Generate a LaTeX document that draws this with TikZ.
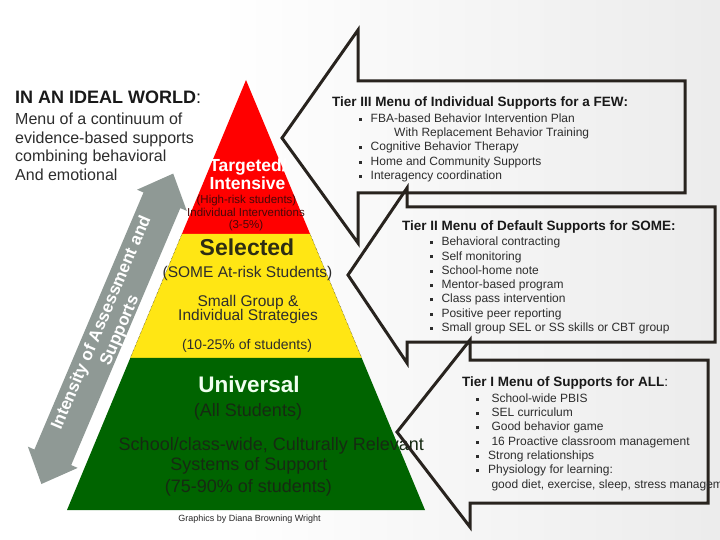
\documentclass[tikz,border=0pt]{standalone}
\usepackage{fontspec}
\setmainfont{Liberation Sans}
\usetikzlibrary{calc}

\definecolor{rouge}{RGB}{255,0,0}
\definecolor{jaune}{RGB}{255,230,20}
\definecolor{vert}{RGB}{0,100,0}
\definecolor{grisfleche}{RGB}{143,153,149}
\definecolor{trait}{RGB}{40,35,30}
\definecolor{texte}{RGB}{45,45,45}
\definecolor{fondgris}{RGB}{222,222,222}
\definecolor{texterouge}{RGB}{70,8,8}
\definecolor{textejaune}{RGB}{45,45,20}
\definecolor{textevert}{RGB}{22,42,18}

\pgfdeclarehorizontalshading{fond}{100bp}{color(0bp)=(white); color(40bp)=(white); color(100bp)=(fondgris)}

\newcommand{\puce}{\makebox[12pt][l]{\rule[1.5pt]{3pt}{3pt}}}

\begin{document}
\begin{tikzpicture}[x=1pt,y=-1pt,
    bulle/.style={draw=trait,line width=3pt,line join=miter},
    titre/.style={anchor=base west,inner sep=0pt,text=black!90,font=\bfseries\fontsize{13.5}{16}\selectfont},
    liste/.style={anchor=base west,inner sep=0pt,text=texte,font=\fontsize{12}{14.3}\selectfont},
    etage/.style={anchor=base,inner sep=0pt}]

        % Fond de la page
        \useasboundingbox (0,0) rectangle (720,540);
        \shade[shading=fond] (0,0) rectangle (720,540);

        % Flèche grise à deux pointes le long de la pyramide
        \fill[grisfleche] (173.2,173.6) -- (186.8,210.9) -- (180.3,208.1) -- (71.2,465.1) -- (77.7,467.9) -- (41.4,484) -- (27.9,446.7) -- (34.4,449.5) -- (143.5,192.5) -- (137,189.7) -- cycle;
        \node[rotate=67,text=white,font=\bfseries\fontsize{17}{20}\selectfont,align=center,inner sep=0pt] (intensite) at (111,327) {Intensity of Assessment and\\Supports};

        % Définir les sommets de la pyramide
        \coordinate (S) at (246,80);
        \coordinate (BG) at (67,510);
        \coordinate (BD) at (425,510);
        \coordinate (RG) at ($(S)!0.3581!(BG)$);
        \coordinate (RD) at ($(S)!0.3581!(BD)$);
        \coordinate (JG) at ($(S)!0.6465!(BG)$);
        \coordinate (JD) at ($(S)!0.6465!(BD)$);

        % Les trois étages
        \fill[rouge] (S) -- (RG) -- (RD) -- cycle;
        \fill[jaune] (RG) -- (JG) -- (JD) -- (RD) -- cycle;
        \fill[vert] (JG) -- (BG) -- (BD) -- (JD) -- cycle;
        \draw[densely dotted,line width=0.4pt] (RG) -- (JG) (RD) -- (JD);

        % Textes de l'étage rouge
        \node[etage,text=white,font=\bfseries\fontsize{17.5}{18}\selectfont] (cible) at (248,171.7) {Targeted/};
        \node[etage,text=white,font=\bfseries\fontsize{17.5}{18}\selectfont] (intensif) at (247.5,189.3) {Intensive};
        \node[etage,text=texterouge,font=\fontsize{11.5}{12}\selectfont] (risque) at (246.5,203.3) {(High-risk students)};
        \node[etage,text=texterouge,font=\fontsize{11.5}{12}\selectfont] (individuel) at (246,216) {Individual Interventions};
        \node[etage,text=texterouge,font=\fontsize{11.5}{12}\selectfont] (part3) at (246,228.3) {(3-5\%)};

        % Textes de l'étage jaune
        \node[etage,text=textejaune,font=\bfseries\fontsize{23}{24}\selectfont] (selection) at (247,255.5) {Selected};
        \node[etage,text=texte,font=\fontsize{15.5}{16}\selectfont] (certains) at (247.5,277.7) {(SOME At-risk Students)};
        \node[etage,text=texte,font=\fontsize{15.5}{16}\selectfont] (groupe) at (248,306.7) {Small Group \&};
        \node[etage,text=texte,font=\fontsize{15.5}{16}\selectfont] (strategies) at (248,320) {Individual Strategies};
        \node[etage,text=texte,font=\fontsize{14}{15}\selectfont] (part2) at (247,349) {(10-25\% of students)};

        % Textes de l'étage vert
        \node[etage,text=white!94!green,font=\bfseries\fontsize{22.5}{24}\selectfont] (universel) at (249,392.7) {Universal};
        \node[etage,text=textevert,font=\fontsize{18}{19}\selectfont] (tous) at (248,416) {(All Students)};
        \node[etage,text=textevert,font=\fontsize{18}{19}\selectfont] (ecole) at (271.3,450) {School/class-wide, Culturally Relevant};
        \node[etage,text=textevert,font=\fontsize{18}{19}\selectfont] (systemes) at (248.8,470.7) {Systems of Support};
        \node[etage,text=textevert,font=\fontsize{18}{19}\selectfont] (part1) at (248.3,492.7) {(75-90\% of students)};
        \node[etage,text=black!85,font=\fontsize{9}{10}\selectfont] (credit) at (249.5,521.7) {Graphics by Diana Browning Wright};

        % Les trois bulles en forme de flèche
        \draw[bulle] (282,138) -- (358,30) -- (358,81) -- (685,81) -- (685,193) -- (358,193) -- (358,243) -- cycle;
        \draw[bulle] (348,275) -- (407,188) -- (407,207) -- (715,207) -- (715,342) -- (407,342) -- (407,363) -- cycle;
        \draw[bulle] (397,432) -- (470,340) -- (470,360) -- (708,360) -- (708,503) -- (470,503) -- (470,527) -- cycle;

        % Menu du niveau III
        \node[titre] (titre3) at (332,106.7) {Tier III Menu of Individual Supports for a FEW:};
        \node[liste] (menu3) at (358.5,122.4) {\begin{tabular}[t]{@{}l@{}}
            \puce FBA-based Behavior Intervention Plan\\
            \hspace{35.5pt}With Replacement Behavior Training\\
            \puce Cognitive Behavior Therapy\\
            \puce Home and Community Supports\\
            \puce Interagency coordination
          \end{tabular}};

        % Menu du niveau II
        \node[titre] (titre2) at (402,230.7) {Tier II Menu of Default Supports for SOME:};
        \node[liste] (menu2) at (429.3,245.7) {\begin{tabular}[t]{@{}l@{}}
            \puce Behavioral contracting\\
            \puce Self monitoring\\
            \puce School-home note\\
            \puce Mentor-based program\\
            \puce Class pass intervention\\
            \puce Positive peer reporting\\
            \puce Small group SEL or SS skills or CBT group
          \end{tabular}};

        % Menu du niveau I
        \node[titre] (titre1) at (462,386) {Tier I Menu of Supports for ALL\textmd{:}};
        \node[liste] (menu1) at (476,402.3) {\begin{tabular}[t]{@{}l@{}}
            \puce\ School-wide PBIS\\
            \puce\ SEL curriculum\\
            \puce\ Good behavior game\\
            \puce\ 16 Proactive classroom management\\
            \puce Strong relationships\\
            \puce Physiology for learning:\\
            \hspace{12pt}\ good diet, exercise, sleep, stress management
          \end{tabular}};

        % Texte d'introduction en haut à gauche
        \node[anchor=base west,inner sep=0pt,text=black!90,font=\fontsize{18}{20}\selectfont] (ideal) at (15,103.3) {\textbf{IN AN IDEAL WORLD}:};
        \node[anchor=base west,inner sep=0pt,text=texte,font=\fontsize{16}{18.8}\selectfont] (continuum) at (15,124.3) {\begin{tabular}[t]{@{}l@{}}
            Menu of a continuum of\\
            evidence-based supports\\
            combining behavioral\\
            And emotional
          \end{tabular}};
    \end{tikzpicture}
\end{document}
